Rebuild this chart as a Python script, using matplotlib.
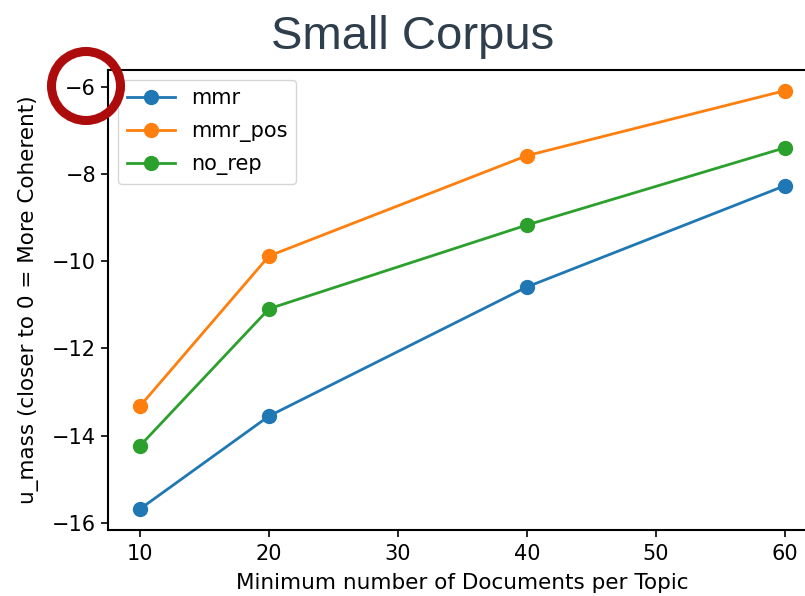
import matplotlib
matplotlib.use('Agg')
import matplotlib.pyplot as plt
from matplotlib.patches import Circle

# Coherence scores per minimum topic size
min_docs = [10, 20, 40, 60]
mmr = [-15.68, -13.55, -10.59, -8.27]
mmr_pos = [-13.32, -9.88, -7.58, -6.09]
no_rep = [-14.23, -11.09, -9.17, -7.40]

fig = plt.figure(figsize=(8.05, 5.96), dpi=100)
ax = fig.add_axes([0.134, 0.111, 0.881, 0.772])

for ys, name in [(mmr, 'mmr'), (mmr_pos, 'mmr_pos'), (no_rep, 'no_rep')]:
    ax.plot(min_docs, ys, '-o', label=name, linewidth=2.0, markersize=10)

ax.set_xticks([10, 20, 30, 40, 50, 60])
ax.set_yticks([-16, -14, -12, -10, -8, -6])
ax.tick_params(labelsize=15, length=5, width=1.2)
ax.tick_params(axis='x', pad=5)
for s in ax.spines.values():
    s.set_linewidth(1.5)
ax.set_xlabel('Minimum number of Documents per Topic', fontsize=15.5, labelpad=7)
ax.set_ylabel('u_mass (closer to 0 = More Coherent)', fontsize=15.5, labelpad=9)
ax.legend(loc='upper left', fontsize=15, handlelength=2.3, labelspacing=0.6)

fig.text(0.512, 0.918, 'Small Corpus', fontsize=34, color='#2f3e4c',
         family='Liberation Sans', ha='center', va='baseline')

# highlight ring around the top tick label
ring = Circle((86, 596 - 86), 34.5, transform=None, fill=False,
              edgecolor='#ad0c0c', linewidth=6.5)
fig.patches.append(ring)

fig.savefig('out.png', dpi=100)
